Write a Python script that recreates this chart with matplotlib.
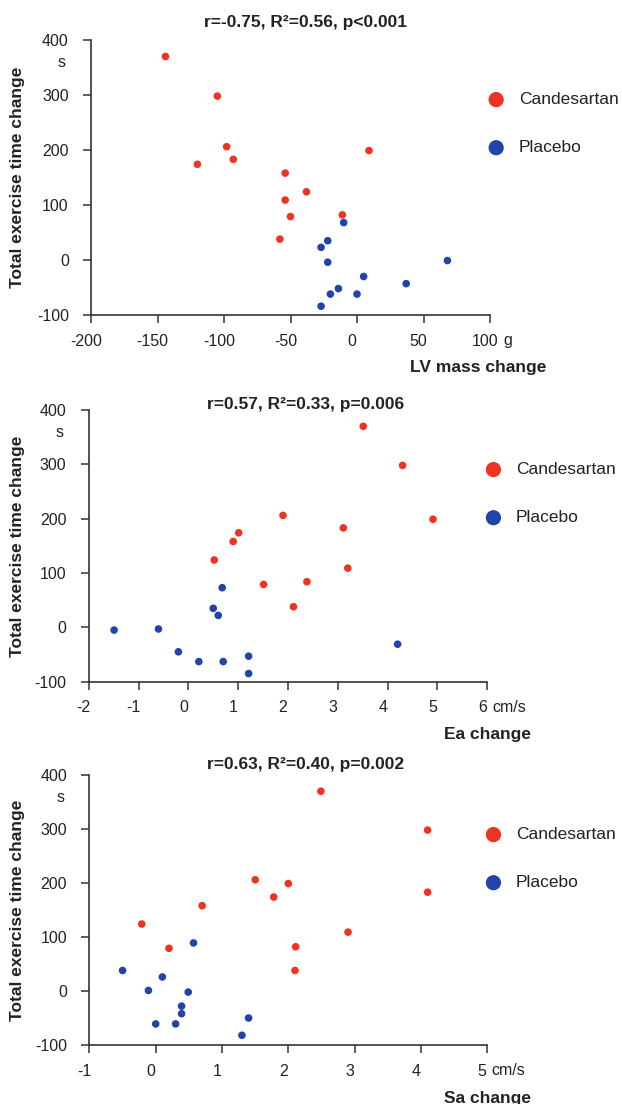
import matplotlib.pyplot as plt
from matplotlib.transforms import ScaledTranslation

plt.rcParams["font.family"] = ["Liberation Sans", "DejaVu Sans"]
plt.rcParams["axes.unicode_minus"] = False

W, H = 622, 1104
RED = "#EE3322"
BLUE = "#2244AA"
INK = "#333333"

# ── data ─────────────────────────────────────────────────────────────────────
lv_cand_x = [-144, -105, -98, -93, -120, 9, -54, -38, -54, -50, -11, -58]
lv_cand_y = [370, 298, 206, 183, 174, 199, 158, 124, 109, 79, 82, 38]
lv_plac_x = [-10, -22, -27, -22, 68, 5, 37, -14, -20, 0, -27]
lv_plac_y = [68, 35, 23, -4, -1, -30, -43, -52, -62, -62, -84]

ea_cand_x = [3.51, 4.30, 1.90, 4.91, 3.11, 1.01, 0.90, 0.52, 3.20, 2.38, 1.51, 2.11]
ea_cand_y = [370, 298, 206, 199, 183, 174, 158, 124, 109, 84, 79, 38]
ea_plac_x = [0.68, 0.50, 0.60, -1.49, -0.60, 4.20, -0.20, 0.21, 0.70, 1.21, 1.21]
ea_plac_y = [73, 35, 22, -5, -3, -31, -45, -63, -63, -53, -85]

sa_cand_x = [2.49, 4.10, 4.10, 1.50, 2.00, 1.78, 0.70, -0.21, 2.90, 0.20, 2.11, 2.10]
sa_cand_y = [370, 298, 183, 206, 199, 174, 158, 124, 109, 79, 82, 38]
sa_plac_x = [0.57, -0.50, 0.10, -0.11, 0.49, 0.39, 0.39, 0.00, 0.30, 1.40, 1.30]
sa_plac_y = [89, 38, 26, 1, -2, -28, -42, -61, -61, -50, -82]

titles = ["r=-0.75, R²=0.56, p<0.001",
          "r=0.57, R²=0.33, p=0.006",
          "r=0.63, R²=0.40, p=0.002"]
xlabels = ["LV mass change", "Ea change", "Sa change"]
xunits = ["g", "cm/s", "cm/s"]
xticks = [[-200, -150, -100, -50, 0, 50, 100],
          [-2, -1, 0, 1, 2, 3, 4, 5, 6],
          [-1, 0, 1, 2, 3, 4, 5]]
yticks = [-100, 0, 100, 200, 300, 400]

panels = [
    (lv_cand_x, lv_cand_y, lv_plac_x, lv_plac_y),
    (ea_cand_x, ea_cand_y, ea_plac_x, ea_plac_y),
    (sa_cand_x, sa_cand_y, sa_plac_x, sa_plac_y),
]

# axes boxes in pixels: left, top, right, bottom
boxes = [(91, 40, 490, 315), (88.7, 410, 487.3, 681.7), (89.4, 775, 487.3, 1045)]
title_y = [22, 404, 765]
xlabel_x = [478, 488, 488]
unit_dx = [13, 5, 4]

fig = plt.figure(figsize=(W / 100, H / 100), dpi=100)
shift_left = ScaledTranslation(-5 / 100, 0, fig.dpi_scale_trans)

for i, (cx, cy, px, py) in enumerate(panels):
    l, t, r, b = boxes[i]
    ax = fig.add_axes([l / W, 1 - b / H, (r - l) / W, (b - t) / H])

    ax.scatter(cx, cy, s=30, color=RED, edgecolors="none", label="Candesartan",
               clip_on=False, zorder=3)
    ax.scatter(px, py, s=30, color=BLUE, edgecolors="none", label="Placebo",
               clip_on=False, zorder=3)

    ax.set_xlim(xticks[i][0], xticks[i][-1])
    ax.set_ylim(-100, 400)
    ax.set_xticks(xticks[i])
    ax.set_yticks(yticks)
    ax.set_xticklabels([str(v) for v in xticks[i]])
    for s in ["top", "right"]:
        ax.spines[s].set_visible(False)
    for s in ["left", "bottom"]:
        ax.spines[s].set_color(INK)
        ax.spines[s].set_linewidth(1.2)
    ax.tick_params(axis="both", direction="out", length=5.5, width=1.1,
                   color=INK, labelsize=11.5, labelcolor="#222222")
    ax.tick_params(axis="x", pad=8)
    ax.tick_params(axis="y", pad=10.5)
    # number labels sit a little left of their ticks in the original
    for tick in ax.xaxis.get_major_ticks():
        tick.label1.set_transform(tick.label1.get_transform() + shift_left)

    # units
    ax.annotate("s", xy=(0, 1), xycoords="axes fraction", xytext=(-18, -16.5),
                textcoords="offset points", ha="right", va="center",
                fontsize=11.5, color="#222222")
    ax.annotate(xunits[i], xy=(1, 0), xycoords="axes fraction",
                xytext=(unit_dx[i] * 0.72, -18.5), textcoords="offset points",
                ha="left", va="center", fontsize=11.5, color="#222222")

    fig.text(306 / W, 1 - title_y[i] / H, titles[i], ha="center", va="center",
             fontsize=12.5, fontweight="bold", color="#222222")
    fig.text(18 / W, 1 - (t + b) / 2 / H, "Total exercise time change",
             rotation=90, ha="center", va="center", fontsize=12.5,
             fontweight="bold", color="#222222")
    fig.text(xlabel_x[i] / W, 1 - (b + 53) / H, xlabels[i], ha="center",
             va="center", fontsize=12.5, fontweight="bold", color="#222222")

    leg = ax.legend(loc="upper left", bbox_to_anchor=(0.998, 1 - 52 / (b - t)),
                    borderaxespad=0, borderpad=0, frameon=False, fontsize=12.5,
                    handlelength=0.8, handletextpad=0.9, labelspacing=1.9,
                    markerscale=2.0, scatterpoints=1)
    for txt in leg.get_texts():
        txt.set_color("#222222")

fig.savefig("out.png", dpi=100)
